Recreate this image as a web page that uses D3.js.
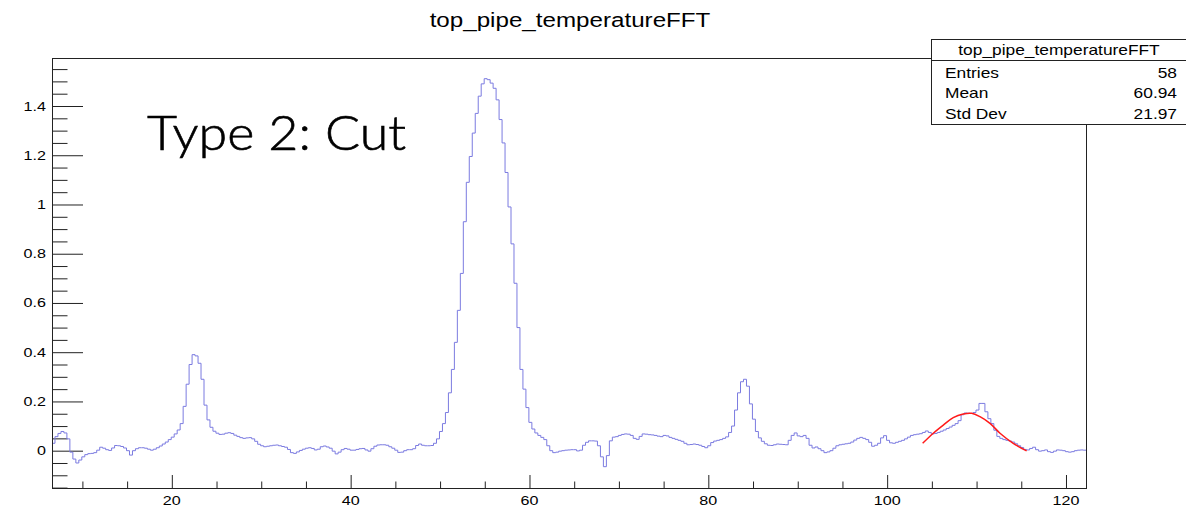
<!DOCTYPE html>
<html>
<head>
<meta charset="utf-8">
<script src="https://cdn.jsdelivr.net/npm/d3@7"></script>
<style>
  body { margin: 0; background: #fff; }
  svg { display: block; }
</style>
</head>
<body>
<svg id="chart" width="1186" height="510"></svg>
<script>
// Histogram: top_pipe_temperatureFFT, fixed-width bins starting at binLow
const histTitle = "top_pipe_temperatureFFT";
const binLow = 6.6;
const binWidth = 1 / 3;
const binContent = [
  0.030, 0.057, 0.070, 0.078, 0.072, 0.048, -0.006, -0.034, -0.050, -0.038,
  -0.025, -0.016, -0.012, -0.011, -0.008, 0.002, 0.014, 0.010, 0.004, 0.001,
  0.011, 0.021, 0.020, 0.017, 0.011, 0.000, -0.018, 0.000, 0.008, 0.012,
  0.012, 0.010, 0.006, 0.002, 0.006, 0.012, 0.019, 0.027, 0.035, 0.045,
  0.055, 0.068, 0.084, 0.110, 0.180, 0.270, 0.350, 0.390, 0.385, 0.355,
  0.290, 0.185, 0.125, 0.095, 0.079, 0.071, 0.066, 0.067, 0.071, 0.073,
  0.070, 0.063, 0.058, 0.053, 0.050, 0.052, 0.053, 0.048, 0.038, 0.026,
  0.020, 0.016, 0.018, 0.020, 0.022, 0.023, 0.020, 0.017, 0.014, 0.005,
  -0.008, -0.011, -0.005, 0.001, 0.006, 0.010, 0.012, 0.009, 0.003, 0.006,
  0.016, 0.019, 0.015, 0.010, -0.002, -0.013, -0.006, 0.004, 0.009, 0.006,
  0.002, 0.002, 0.005, 0.008, 0.009, 0.003, -0.002, 0.008, 0.018, 0.023,
  0.024, 0.024, 0.022, 0.016, 0.010, 0.002, -0.007, -0.006, 0.000, 0.004,
  0.004, 0.008, 0.021, 0.027, 0.022, 0.020, 0.020, 0.021, 0.030, 0.048,
  0.078, 0.110, 0.155, 0.235, 0.330, 0.440, 0.570, 0.720, 0.930, 1.090,
  1.195, 1.290, 1.370, 1.440, 1.490, 1.511, 1.507, 1.493, 1.472, 1.425,
  1.345, 1.250, 1.130, 0.990, 0.840, 0.680, 0.500, 0.330, 0.250, 0.175,
  0.115, 0.088, 0.072, 0.062, 0.054, 0.045, 0.020, 0.000, -0.008, -0.006,
  -0.002, 0.000, 0.002, 0.003, 0.004, 0.004, -0.001, 0.002, 0.022, 0.034,
  0.040, 0.040, 0.039, 0.020, -0.025, -0.065, -0.020, 0.040, 0.055, 0.057,
  0.062, 0.066, 0.068, 0.067, 0.062, 0.050, 0.046, 0.058, 0.068, 0.067,
  0.065, 0.064, 0.062, 0.059, 0.057, 0.062, 0.060, 0.054, 0.050, 0.046,
  0.042, 0.038, 0.030, 0.024, 0.025, 0.027, 0.025, 0.022, 0.017, 0.012,
  0.020, 0.033, 0.039, 0.042, 0.045, 0.050, 0.056, 0.074, 0.100, 0.165,
  0.235, 0.280, 0.290, 0.262, 0.190, 0.128, 0.078, 0.052, 0.038, 0.028,
  0.022, 0.021, 0.024, 0.027, 0.026, 0.025, 0.024, 0.042, 0.062, 0.072,
  0.060, 0.057, 0.062, 0.050, 0.022, 0.011, 0.015, 0.008, 0.000, -0.008,
  -0.005, 0.000, 0.010, 0.020, 0.024, 0.026, 0.028, 0.030, 0.035, 0.043,
  0.050, 0.054, 0.050, 0.045, 0.034, 0.018, 0.022, 0.030, 0.052, 0.061,
  0.042, 0.032, 0.030, 0.034, 0.038, 0.042, 0.048, 0.055, 0.062, 0.065,
  0.067, 0.069, 0.074, 0.080, 0.074, 0.068, 0.070, 0.074, 0.079, 0.084,
  0.090, 0.096, 0.103, 0.110, 0.122, 0.146, 0.153, 0.152, 0.151, 0.155,
  0.165, 0.192, 0.192, 0.158, 0.130, 0.110, 0.083, 0.058, 0.050, 0.045,
  0.042, 0.039, 0.035, 0.028, 0.020, 0.013, 0.005, 0.003, 0.009, 0.014,
  0.004, -0.002, 0.000, 0.003, -0.004, -0.007, -0.002, 0.003, 0.002, 0.000,
  -0.004, -0.006, -0.004, 0.000, 0.002, 0.003, 0.002
];

// Fitted function evaluated along the right-hand bump
const fitX = [103.97, 105.16, 106.28, 107.39, 108.51, 109.45, 110.38, 111.50, 112.62, 114.10, 115.60];
const fitY = [0.030, 0.071, 0.104, 0.134, 0.149, 0.152, 0.138, 0.111, 0.071, 0.030, -0.001];

// Axis ranges and ticks
const xRange = [6.6, 122.35];
const yRange = [-0.1516, 1.595];
const xMajorTicks = [20, 40, 60, 80, 100, 120];
const xMinorTicks = [10, 15, 25, 30, 35, 45, 50, 55, 65, 70, 75, 85, 90, 95, 105, 110, 115];
const yMajorTicks = [0, 0.2, 0.4, 0.6, 0.8, 1, 1.2, 1.4];
const yMinorTicks = [-0.15, -0.1, -0.05, 0.05, 0.1, 0.15, 0.25, 0.3, 0.35, 0.45, 0.5, 0.55,
  0.65, 0.7, 0.75, 0.85, 0.9, 0.95, 1.05, 1.1, 1.15, 1.25, 1.3, 1.35, 1.45, 1.5, 1.55];

// Statistics box rows
const statLabels = ["Entries", "Mean", "Std Dev"];
const statValues = ["58", "60.94", "21.97"];

const annotation = "Type 2: Cut";

const svg = d3.select("#chart");
const frame = { left: 52, right: 1087, top: 58, bottom: 488 };
const stretch = 1.24; // horizontal text widening used throughout the canvas
const font = "'Liberation Sans', Arial, Helvetica, sans-serif";

const x = d3.scaleLinear().domain(xRange).range([frame.left, frame.right]);
const y = d3.scaleLinear().domain(yRange).range([frame.bottom, frame.top]);

svg.append("rect").attr("width", 1186).attr("height", 510).attr("fill", "#fff");

svg.append("defs").append("clipPath").attr("id", "plotClip")
  .append("rect")
  .attr("x", frame.left).attr("y", frame.top)
  .attr("width", frame.right - frame.left).attr("height", frame.bottom - frame.top);

// Widened text helper
function label(g, str, px, py, size, anchor) {
  return g.append("text")
    .attr("transform", `translate(${px},${py}) scale(${stretch},1)`)
    .attr("text-anchor", anchor || "start")
    .attr("font-family", font)
    .attr("font-size", size)
    .attr("fill", "#000")
    .text(str);
}

// Title
label(svg, histTitle, 570, 27, 19.5, "middle");

// Y axis: major + minor ticks pointing into the frame
const yMajor = d3.axisLeft(y).tickValues(yMajorTicks).tickSize(-31).tickFormat("");
const yMinor = d3.axisLeft(y).tickValues(yMinorTicks).tickSize(-15.5).tickFormat("");
const gyMaj = svg.append("g").attr("transform", `translate(${frame.left},0)`).call(yMajor);
const gyMin = svg.append("g").attr("transform", `translate(${frame.left},0)`).call(yMinor);

// X axis: major + minor ticks pointing up into the frame
const xMajor = d3.axisBottom(x).tickValues(xMajorTicks).tickSize(-13).tickFormat("");
const xMinor = d3.axisBottom(x).tickValues(xMinorTicks).tickSize(-6.5).tickFormat("");
const gxMaj = svg.append("g").attr("transform", `translate(0,${frame.bottom})`).call(xMajor);
const gxMin = svg.append("g").attr("transform", `translate(0,${frame.bottom})`).call(xMinor);

[gyMaj, gyMin, gxMaj, gxMin].forEach(g => {
  g.select(".domain").remove();
  g.selectAll(".tick line").attr("stroke", "#222").attr("stroke-width", 1);
});

// Tick labels
const yFmt = d3.format("~g");
const tickLabels = svg.append("g");
yMajorTicks.forEach(v => {
  label(tickLabels, yFmt(v), frame.left - 6, y(v) + 4.5, 13, "end");
});
xMajorTicks.forEach(v => {
  label(tickLabels, String(v), x(v), 505, 13, "middle");
});

// Histogram outline (step line over bin edges)
const edges = binContent.map((v, i) => [binLow + i * binWidth, v]);
edges.push([binLow + binContent.length * binWidth, binContent[binContent.length - 1]]);
const stepLine = d3.line()
  .x(d => x(d[0]))
  .y(d => y(d[1]))
  .curve(d3.curveStepAfter);

svg.append("path")
  .attr("clip-path", "url(#plotClip)")
  .attr("d", stepLine(edges))
  .attr("fill", "none")
  .attr("stroke", "#7b7be0")
  .attr("stroke-width", 1);

// Fit curve
const fitLine = d3.line()
  .x((d, i) => x(fitX[i]))
  .y(d => y(d))
  .curve(d3.curveCatmullRom.alpha(0.5));
svg.append("path")
  .attr("d", fitLine(fitY))
  .attr("fill", "none")
  .attr("stroke", "#ff1a1a")
  .attr("stroke-width", 1.5);

// Frame
svg.append("rect")
  .attr("x", frame.left + 0.5).attr("y", frame.top + 0.5)
  .attr("width", frame.right - frame.left - 1).attr("height", frame.bottom - frame.top)
  .attr("fill", "none").attr("stroke", "#222").attr("stroke-width", 1);

// Annotation
svg.append("text")
  .attr("x", 147).attr("y", 150)
  .attr("font-family", "Lato, 'Open Sans', sans-serif")
  .attr("font-weight", 300)
  .attr("font-size", 47)
  .attr("textLength", 259)
  .attr("lengthAdjust", "spacingAndGlyphs")
  .attr("fill", "#000")
  .attr("stroke", "#000")
  .attr("stroke-width", 0.6)
  .text(annotation);

// Statistics box
const box = { left: 931.5, top: 39.5, right: 1200, bottom: 124.5, sep: 60.5 };
const stats = svg.append("g");
stats.append("rect")
  .attr("x", box.left).attr("y", box.top)
  .attr("width", box.right - box.left).attr("height", box.bottom - box.top)
  .attr("fill", "#fff").attr("stroke", "#222").attr("stroke-width", 1);
stats.append("line")
  .attr("x1", box.left).attr("x2", box.right)
  .attr("y1", box.sep).attr("y2", box.sep)
  .attr("stroke", "#222");
label(stats, histTitle, 1059, 55, 14, "middle");
statLabels.forEach((s, i) => {
  label(stats, s, 945, 77.5 + i * 20.5, 14, "start");
  label(stats, statValues[i], 1177, 77.5 + i * 20.5, 14, "end");
});
</script>
</body>
</html>
